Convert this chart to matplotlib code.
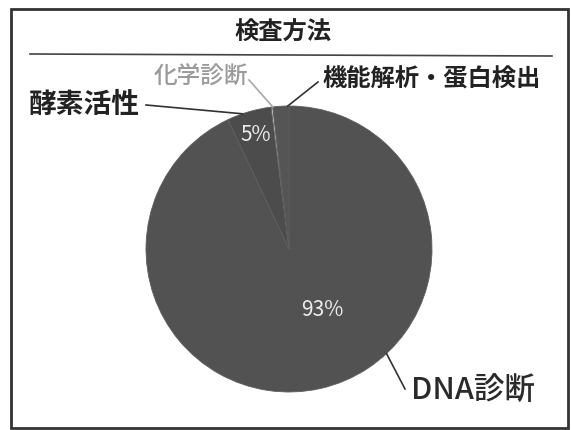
import numpy as np
import matplotlib.pyplot as plt
from matplotlib.patches import Rectangle

plt.rcParams['font.family'] = ['Noto Sans CJK JP', 'DejaVu Sans']

# データ
categories = ["DNA診断", "酵素活性", "化学診断", "機能解析・蛋白検出"]
values = [93.0, 5.0, 0.2, 1.8]
pct_labels = ["93%", "5%", "", ""]
title = "検査方法"

W, H = 571, 430
fig = plt.figure(figsize=(W / 100, H / 100), dpi=100)
ax = fig.add_axes([0, 0, 1, 1])

def py(y):
    # ピクセル座標(上から) -> データ座標
    return H - y

cx, cy, r = 289, py(249), 143
colors = ["#525252", "#4c4c4c", "#c8c8c8", "#555555"]

wedges, _ = ax.pie(values, colors=colors, startangle=90, counterclock=False,
                   center=(cx, cy), radius=r, frame=True,
                   wedgeprops=dict(edgecolor="#5e5e5e", linewidth=0.6))
ax.set_xlim(0, W)
ax.set_ylim(0, H)
ax.set_aspect('equal')
ax.axis('off')

# パーセント表示
ax.text(256, py(135), pct_labels[1], color="#ececec", fontsize=15,
        ha='center', va='center')
ax.text(322, py(310), pct_labels[0], color="#ececec", fontsize=15,
        ha='center', va='center')

def edge_point(angle_deg):
    # 上から時計回りの角度で円周上の点
    a = np.deg2rad(angle_deg)
    return cx + r * np.sin(a), cy + r * np.cos(a)

# ラベルと引出線
label_style = [
    # (text pos, line start, edge angle, fontsize, weight, color, ha)
    ((411, 391), (405, 389), 137, 22, 'medium', '#2a2a2a', 'left'),
    ((140, 105), (146, 105), 341, 20, 'bold', '#222222', 'right'),
    ((248, 77), (249, 80), 353.5, 17, 'medium', '#9a9a9a', 'right'),
    ((322, 80), (318, 82), 359.5, 17.5, 'bold', '#222222', 'left'),
]
for name, (tp, ls, ang, fs, fw, col, ha) in zip(categories, label_style):
    ax.text(tp[0], py(tp[1]), name, fontsize=fs, fontweight=fw, color=col,
            ha=ha, va='center')
    ex, ey = edge_point(ang)
    lc = "#a8a8a8" if col == '#9a9a9a' else "#333333"
    ax.plot([ls[0], ex], [py(ls[1]), ey], color=lc, linewidth=1.2)

# タイトルと枠
ax.text(283, py(33), title, fontsize=17.5, fontweight='bold', color='#222222',
        ha='center', va='center')
ax.plot([30, 552], [py(54), py(56)], color='#444444', linewidth=1.2)
ax.add_patch(Rectangle((11, py(428)), 557, 419, fill=False,
                       edgecolor='#333333', linewidth=2))

fig.savefig("out.png", dpi=100)
